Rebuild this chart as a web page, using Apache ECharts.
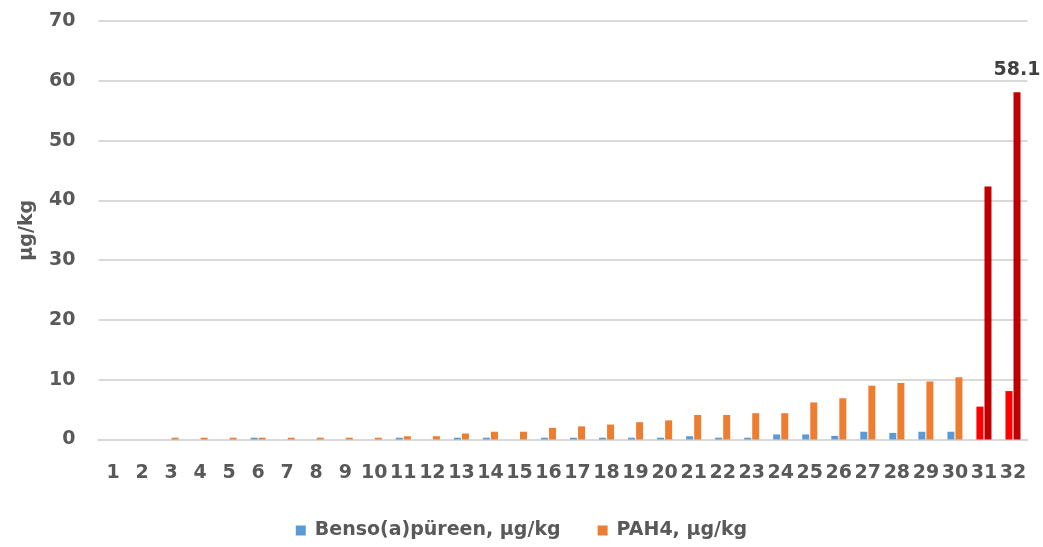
<!DOCTYPE html>
<html>
<head>
<meta charset="utf-8">
<script src="https://cdn.jsdelivr.net/npm/echarts@6/dist/echarts.min.js"></script>
<style>
  html, body { margin: 0; padding: 0; background: #fff; }
  #chart { width: 1043px; height: 547px; }
</style>
</head>
<body>
<div id="chart"></div>
<script>
// Sample numbers 1..32
const categories = ['1','2','3','4','5','6','7','8','9','10','11','12','13','14','15','16',
  '17','18','19','20','21','22','23','24','25','26','27','28','29','30','31','32'];

// Benzo(a)pyrene, µg/kg
const bapValues = [0, 0, 0, 0, 0, 0.3, 0, 0, 0, 0, 0.3, 0, 0.3, 0.3, 0, 0.3,
  0.3, 0.3, 0.3, 0.3, 0.55, 0.3, 0.3, 0.85, 0.85, 0.6, 1.3, 1.1, 1.3, 1.3, 5.5, 8.1];

// PAH4 sum, µg/kg
const pah4Values = [0, 0, 0.3, 0.3, 0.3, 0.3, 0.3, 0.3, 0.3, 0.3, 0.55, 0.55, 1.0, 1.3, 1.3, 1.95,
  2.2, 2.5, 2.9, 3.2, 4.1, 4.1, 4.4, 4.4, 6.2, 6.9, 9.0, 9.45, 9.7, 10.4, 42.3, 58.1];

// Samples over the limit are highlighted
const flagged = ['31', '32'];
const labelled = ['32'];

const yTicks = { min: 0, max: 70, interval: 10 };

const TEXT = '#595959';
const FONT = 'DejaVu Sans';
const SIZE = 19;

function build(values, flagColor, withLabel) {
  return values.map((v, i) => {
    const cat = categories[i];
    const item = { value: v };
    if (flagged.includes(cat)) item.itemStyle = { color: flagColor };
    if (withLabel && labelled.includes(cat)) {
      item.label = {
        show: true, position: 'top', distance: 13,
        fontFamily: FONT, fontWeight: 'bold', fontSize: SIZE, color: '#404040',
        formatter: p => p.value.toFixed(1)
      };
    }
    return item;
  });
}

const chart = echarts.init(document.getElementById('chart'), null, { renderer: 'canvas' });
chart.setOption({
  animation: false,
  backgroundColor: '#ffffff',
  textStyle: { fontFamily: FONT },
  grid: { left: 98.5, right: 15.5, top: 21, bottom: 107.5, containLabel: false },
  legend: {
    bottom: 2,
    left: 'center',
    itemWidth: 10,
    itemHeight: 10,
    itemGap: 37,
    icon: 'rect',
    textStyle: { fontFamily: FONT, fontWeight: 'bold', fontSize: SIZE, color: TEXT, padding: [0, 0, 0, 4] },
    data: ['Benso(a)püreen, µg/kg', 'PAH4, µg/kg']
  },
  xAxis: {
    type: 'category',
    data: categories,
    axisLine: { show: true, lineStyle: { color: '#D9D9D9', width: 2 } },
    axisTick: { show: false },
    axisLabel: { interval: 0, margin: 24, fontFamily: FONT, fontWeight: 'bold', fontSize: SIZE, color: TEXT }
  },
  yAxis: {
    type: 'value',
    min: yTicks.min, max: yTicks.max, interval: yTicks.interval,
    name: 'µg/kg',
    nameLocation: 'middle',
    nameGap: 62,
    nameTextStyle: { fontFamily: FONT, fontWeight: 'bold', fontSize: SIZE, color: TEXT },
    axisLine: { show: false },
    axisTick: { show: false },
    axisLabel: { margin: 23, fontFamily: FONT, fontWeight: 'bold', fontSize: SIZE, color: TEXT },
    splitLine: { lineStyle: { color: '#D9D9D9', width: 2 } }
  },
  series: [
    {
      name: 'Benso(a)püreen, µg/kg',
      type: 'bar',
      barWidth: 7,
      barGap: '15%',
      itemStyle: { color: '#5B9BD5' },
      data: build(bapValues, '#FF0000', false)
    },
    {
      name: 'PAH4, µg/kg',
      type: 'bar',
      barWidth: 7,
      barGap: '15%',
      itemStyle: { color: '#ED7D31' },
      data: build(pah4Values, '#C00000', true)
    }
  ]
});
</script>
</body>
</html>
